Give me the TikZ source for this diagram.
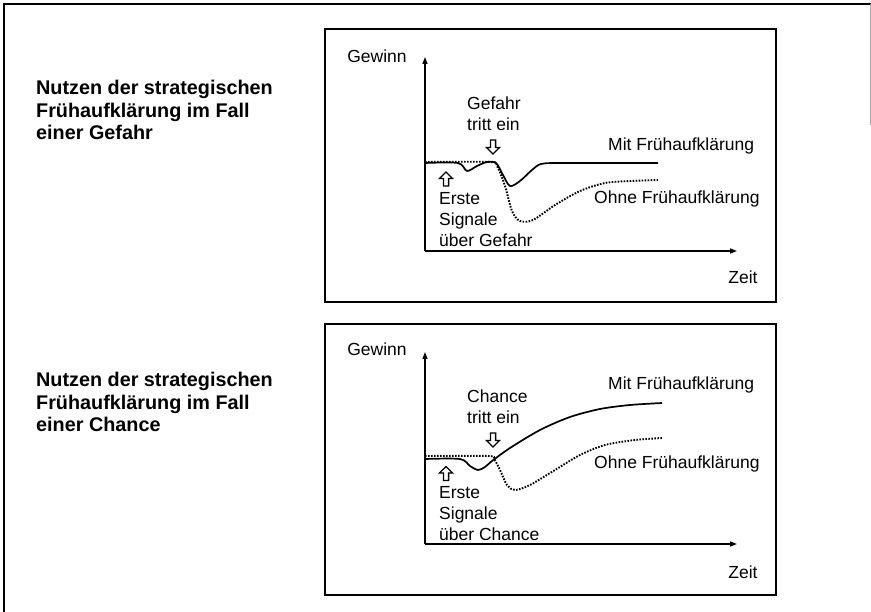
\documentclass[tikz,border=0pt]{standalone}
\usepackage{fontspec}
\setmainfont{Liberation Sans}
\usetikzlibrary{arrows.meta}
\begin{document}
\begin{tikzpicture}[x=1pt,y=-1pt,
  frameline/.style={line width=1.6pt},
  panelbox/.style={draw, line width=1.3pt},
  axis/.style={line width=1.3pt, -{Triangle[length=7pt,width=5pt]}},
  withcurve/.style={line width=1.7pt, line join=round},
  withoutcurve/.style={line width=1.9pt, dash pattern=on 1.6pt off 1.4pt},
  lbl/.style={inner sep=0pt, font=\fontsize{17.5}{21}\selectfont},
  multilbl/.style={lbl, align=left, anchor=north west},
  titletext/.style={inner sep=0pt, align=left, anchor=north west, font=\fontsize{19.8}{22.5}\selectfont\bfseries},
  hollowup/.pic={
    \draw[line width=1.3pt, line join=miter, fill=white]
      (0,-7) -- (6.5,-0.5) -- (2.6,-0.5) -- (2.6,7) -- (-2.6,7) -- (-2.6,-0.5) -- (-6.5,-0.5) -- cycle;
  }
]
\useasboundingbox (0,0) rectangle (871,612);

% outer frame
\draw[frameline] (3,4) -- (871,4);
\draw[frameline] (4,4) -- (4,612);
\draw[line width=0.8pt, black!35] (870,4) -- (870,125);

% ---------- upper panel: threat ----------
\node[titletext] (t1) at (36,80) {Nutzen der strategischen\\Frühaufklärung im Fall\\einer Gefahr};
\draw[panelbox] (325,29) rectangle (776,302);
\coordinate (o1) at (425,251);
\coordinate (y1) at (425,57);
\coordinate (x1) at (737,251);
\draw[axis] (o1) -- (y1);
\draw[axis] (o1) -- (x1);
\node[lbl] (g1) at (377,56) {Gewinn};
\node[lbl] (z1) at (743,277) {Zeit};
\node[multilbl] (e1) at (467,96.5) {Gefahr\\tritt ein};
\node[lbl, anchor=west] (m1) at (608,146) {Mit Frühaufklärung};
\node[lbl, anchor=west] (n1) at (594,199) {Ohne Frühaufklärung};
\node[multilbl] (s1) at (439,192.7) {Erste\\Signale\\über Gefahr};
% hollow arrows: first signals (up) and event (down)
\pic at (446,179) {hollowup};
\pic[rotate=180] at (493,147) {hollowup};
% curves
\draw[withoutcurve] plot[smooth, tension=0.5] coordinates {(425,162) (490,162) (497,166) (505,186) (512,211) (520,221) (533,220) (555,205) (580,191) (605,183) (630,181) (658,180)};
\draw[withcurve] plot[smooth, tension=0.5] coordinates {(425,163) (458,163) (467,171) (477,166) (487,162) (496,163) (503,175) (510,186) (520,181) (532,170) (541,164) (560,163) (658,163)};

% ---------- lower panel: opportunity ----------
\node[titletext] (t2) at (36,372) {Nutzen der strategischen\\Frühaufklärung im Fall\\einer Chance};
\draw[panelbox] (325,324) rectangle (776,595);
\coordinate (o2) at (425,544);
\coordinate (y2) at (425,352);
\coordinate (x2) at (737,544);
\draw[axis] (o2) -- (y2);
\draw[axis] (o2) -- (x2);
\node[lbl] (g2) at (377,349) {Gewinn};
\node[lbl] (z2) at (743,572) {Zeit};
\node[multilbl] (e2) at (467,389.5) {Chance\\tritt ein};
\node[lbl, anchor=west] (m2) at (608,385) {Mit Frühaufklärung};
\node[lbl, anchor=west] (n2) at (594,464) {Ohne Frühaufklärung};
\node[multilbl] (s2) at (439,486.7) {Erste\\Signale\\über Chance};
% hollow arrows: first signals (up) and event (down)
\pic at (446,473.5) {hollowup};
\pic[rotate=180] at (493,440) {hollowup};
% curves
\draw[withoutcurve] plot[smooth, tension=0.5] coordinates {(425,456) (488,456) (494,459) (500,470) (507,485) (515,490) (530,485) (555,470) (580,455) (605,445) (635,440) (662,438)};
\draw[withcurve] plot[smooth, tension=0.5] coordinates {(425,459) (460,459) (470,466) (478,470) (485,467) (492,461) (510,448) (540,430) (570,417) (600,409) (630,405) (662,403)};
\end{tikzpicture}
\end{document}
